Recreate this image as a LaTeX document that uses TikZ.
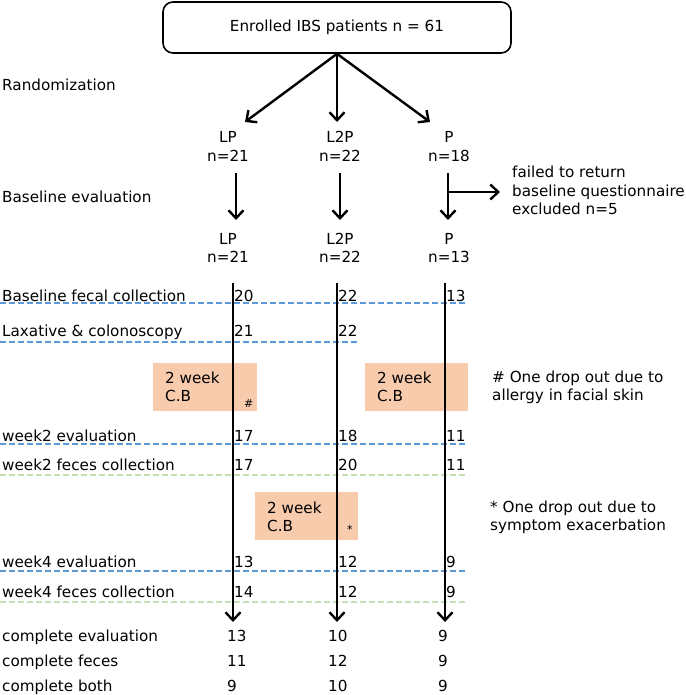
\documentclass[tikz,border=0pt]{standalone}
\usepackage{fontspec}
\setmainfont{DejaVu Sans}
\usetikzlibrary{arrows.meta}
\definecolor{dblue}{HTML}{5B9BD5}
\definecolor{dgreen}{HTML}{C5E0B4}
\definecolor{cbfill}{HTML}{F8CBAD}
\newcommand{\fsz}{\fontsize{15.2pt}{18pt}\selectfont}
\newcommand{\fsm}{\fontsize{11pt}{13pt}\selectfont}
\begin{document}
\begin{tikzpicture}[x=1pt,y=-1pt,
  txt/.style={font=\fsz, inner sep=0pt, anchor=base west},
  grp/.style={font=\fsz, inner sep=0pt, align=center, anchor=base},
  note/.style={font=\fsz, inner sep=0pt, align=left, anchor=base west},
  small/.style={font=\fsm, inner sep=0pt, anchor=base west},
  cbbox/.style={fill=cbfill, draw=none},
  bdash/.style={draw=dblue, line width=1.8pt, dash pattern=on 6pt off 3pt},
  gdash/.style={draw=dgreen, line width=1.8pt, dash pattern=on 6pt off 3pt},
  arr/.style={line width=2.4pt, -{Straight Barb[length=8pt,width=15pt]}},
  vline/.style={line width=2.4pt, -{Straight Barb[length=8pt,width=15pt]}},
]
\useasboundingbox (0,0) rectangle (685,695);

% top box
\node[draw, line width=1.6pt, rounded corners=10pt, minimum width=348pt, minimum height=51pt, inner sep=0pt, font=\fsz] (top) at (337,27.5) {Enrolled IBS patients n = 61};

% left labels
\node[txt] (rand) at (2,91) {Randomization};
\node[txt] (beval) at (2,202) {Baseline evaluation};
\node[txt] (bfec) at (2,301) {Baseline fecal collection};
\node[txt] (lax) at (2,336) {Laxative \& colonoscopy};
\node[txt] (w2e) at (2,441) {week2 evaluation};
\node[txt] (w2f) at (2,470) {week2 feces collection};
\node[txt] (w4e) at (2,567) {week4 evaluation};
\node[txt] (w4f) at (2,597) {week4 feces collection};
\node[txt] (ce) at (2,641) {complete evaluation};
\node[txt] (cf) at (2,666) {complete feces};
\node[txt] (cb) at (2,691) {complete both};

% group labels (base anchor = baseline of last line)
\node[grp] (lp1) at (228,161) {LP\\n=21};
\node[grp] (lqp1) at (340,161) {L2P\\n=22};
\node[grp] (p1) at (449,161) {P\\n=18};
\node[grp] (lp2) at (228,262) {LP\\n=21};
\node[grp] (lqp2) at (340,262) {L2P\\n=22};
\node[grp] (p2) at (449,262) {P\\n=13};

% fan arrows
\coordinate (fanL) at (245,122);
\coordinate (fanM) at (337,122);
\coordinate (fanR) at (430,122);
\draw[arr] (top.south) -- (fanL);
\draw[arr] (top.south) -- (fanM);
\draw[arr] (top.south) -- (fanR);

% down arrows
\coordinate (dLa) at (236,173); \coordinate (dLb) at (236,220);
\coordinate (dMa) at (340,173); \coordinate (dMb) at (340,220);
\coordinate (dRa) at (448,173); \coordinate (dRb) at (448,220);
\coordinate (brA) at (448,192); \coordinate (brB) at (500,192);
\draw[arr] (dLa) -- (dLb);
\draw[arr] (dMa) -- (dMb);
\draw[arr] (dRa) -- (dRb);
\draw[arr] (brA) -- (brB);

\node[note] (fail) at (512,214) {failed to return\\baseline questionnaire\\excluded n=5};

% orange boxes
\fill[cbbox] (153,363) rectangle (257,411);
\fill[cbbox] (365,363) rectangle (468,411);
\fill[cbbox] (255,492) rectangle (358,540);
\node[note] (cb1) at (165,401) {2 week\\C.B};
\node[note] (cb2) at (377,401) {2 week\\C.B};
\node[note] (cb3) at (267,531) {2 week\\C.B};
\node[small] (hash) at (244,407) {\#};
\node[small] (star) at (347,533) {*};

\node[note] (n1) at (492,400) {\# One drop out due to\\allergy in facial skin};
\node[note] (n2) at (490,530) {* One drop out due to\\symptom exacerbation};

% dashed lines
\coordinate (d1a) at (0,303); \coordinate (d1b) at (467,303);
\coordinate (d2a) at (0,342); \coordinate (d2b) at (357,342);
\coordinate (d3a) at (0,444); \coordinate (d3b) at (467,444);
\coordinate (d4a) at (0,475); \coordinate (d4b) at (467,475);
\coordinate (d5a) at (0,571); \coordinate (d5b) at (467,571);
\coordinate (d6a) at (0,602); \coordinate (d6b) at (467,602);
\draw[bdash] (d1a) -- (d1b);
\draw[bdash] (d2a) -- (d2b);
\draw[bdash] (d3a) -- (d3b);
\draw[gdash] (d4a) -- (d4b);
\draw[bdash] (d5a) -- (d5b);
\draw[gdash] (d6a) -- (d6b);

% long vertical lines
\coordinate (vLa) at (233,283); \coordinate (vLb) at (233,622);
\coordinate (vMa) at (337,283); \coordinate (vMb) at (337,622);
\coordinate (vRa) at (445,283); \coordinate (vRb) at (445,622);
\draw[vline] (vLa) -- (vLb);
\draw[vline] (vMa) -- (vMb);
\draw[vline] (vRa) -- (vRb);

% numbers
\foreach \y/\a/\b/\c [count=\i] in {301/20/22/13, 441/17/18/11, 470/17/20/11, 567/13/12/9, 597/14/12/9}{
  \node[txt] (nL\i) at (234,\y) {\a};
  \node[txt] (nM\i) at (338,\y) {\b};
  \node[txt] (nR\i) at (446,\y) {\c};
}
\node[txt] (laxL) at (234,336) {21};
\node[txt] (laxM) at (338,336) {22};

\foreach \y/\a/\b/\c [count=\i] in {641/13/10/9, 666/11/12/9, 691/9/10/9}{
  \node[txt] (fL\i) at (227,\y) {\a};
  \node[txt] (fM\i) at (328,\y) {\b};
  \node[txt] (fR\i) at (438,\y) {\c};
}
\end{tikzpicture}
\end{document}
